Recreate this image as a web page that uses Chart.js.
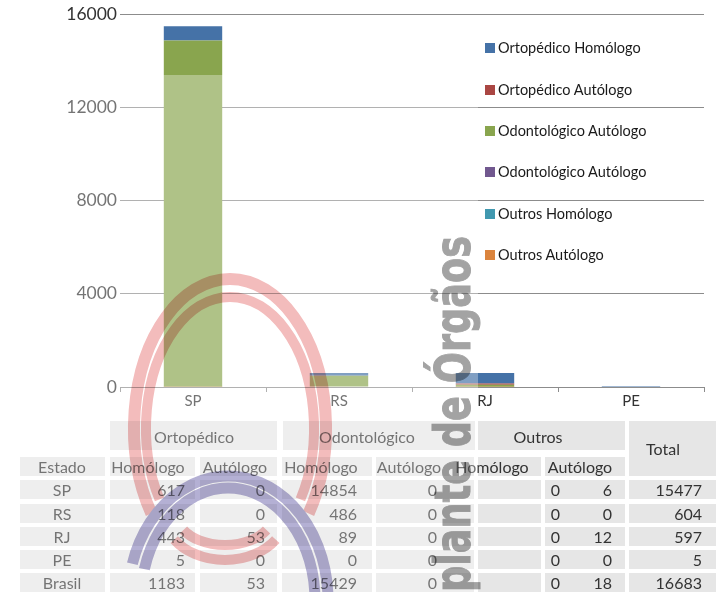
<!DOCTYPE html>
<html lang="pt-BR">
<head>
<meta charset="utf-8">
<title>Transplante de tecidos ósseos por estado</title>
<script src="https://cdn.jsdelivr.net/npm/chart.js@4/dist/chart.umd.min.js"></script>
<style>
  html, body { margin: 0; padding: 0; background: #fff; }
  #page { position: relative; width: 720px; height: 592px; overflow: hidden; font-family: Lato, "Open Sans", sans-serif; }
  #grafico { position: absolute; left: 0; top: 0; }
  #legenda { position: absolute; left: 485px; top: 0; z-index: 4; }
  .leg-item { position: absolute; left: 0; white-space: nowrap; font-size: 14.5px; color: #1a1a1a; line-height: 18px; }
  .leg-box { display: inline-block; width: 10px; height: 10px; margin-right: 3px; }
  #tabela { position: absolute; left: 0; top: 0; width: 720px; height: 592px; z-index: 1; }
  .cel { position: absolute; background: #e6e6e6; z-index: 1; }
  .txt { position: absolute; white-space: nowrap; color: #333; font-size: 16px; line-height: 19px; z-index: 2; }
  #clarear { position: absolute; left: 0; top: 75px; width: 478px; height: 517px; background: rgba(255,255,255,0.32); z-index: 2; }
  #marca { position: absolute; left: 0; top: 0; z-index: 3; mix-blend-mode: multiply; pointer-events: none; }
</style>
</head>
<body>
<div id="page">
  <canvas id="grafico" width="720" height="410"></canvas>
  <div id="tabela"></div>
  <div id="clarear"></div>
  <svg id="marca" width="720" height="592" viewBox="0 0 720 592"></svg>
  <div id="legenda"></div>
</div>
<script>
const estados = ['SP', 'RS', 'RJ', 'PE', 'Brasil'];
const ortoHomologo = [617, 118, 443, 5, 1183];
const ortoAutologo = [0, 0, 53, 0, 53];
const odontoHomologo = [14854, 486, 89, 0, 15429];
const odontoAutologo = [0, 0, 0, 0, 0];
const outrosHomologo = [0, 0, 0, 0, 0];
const outrosAutologo = [6, 0, 12, 0, 18];
const totais = [15477, 604, 597, 5, 16683];

// Eixos do gráfico
const categorias = estados.slice(0, 4);
const yMin = 0;
const yMax = 16000;
const yPasso = 4000;

// Séries na ordem da legenda (de cima para baixo)
const nomesSeries = [
  'Ortopédico Homólogo',
  'Ortopédico Autólogo',
  'Odontológico Autólogo',
  'Odontológico Autólogo',
  'Outros Homólogo',
  'Outros Autólogo',
];
const valoresSeries = [ortoHomologo, ortoAutologo, odontoHomologo, odontoAutologo, outrosHomologo, outrosAutologo];
const coresSeries = ['#4572a7', '#aa4643', '#89a54e', '#71588f', '#4198af', '#db843d'];

// Empilhamento: a primeira série do Chart.js fica embaixo
const datasets = nomesSeries.map((nome, i) => ({
  label: nome,
  data: valoresSeries[i].slice(0, 4),
  backgroundColor: coresSeries[i],
  borderWidth: 0,
  barPercentage: 0.4,
  categoryPercentage: 1,
})).reverse();

const fonte = 'Lato, "Open Sans", sans-serif';
const cinzaGrade = '#8c8c8c';

const grafico = new Chart(document.getElementById('grafico'), {
  type: 'bar',
  data: { labels: categorias, datasets },
  options: {
    responsive: false,
    animation: false,
    layout: { padding: { top: 14, right: 16, left: 0, bottom: 0 } },
    plugins: { legend: { display: false }, tooltip: { enabled: false } },
    scales: {
      x: {
        stacked: true,
        grid: { drawOnChartArea: false, offset: true, tickLength: 5, color: cinzaGrade },
        border: { color: cinzaGrade },
        ticks: { font: { family: fonte, size: 15 }, color: '#333', padding: 0 },
        afterFit: (s) => { s.height = 23; },
      },
      y: {
        stacked: true,
        min: yMin,
        max: yMax,
        ticks: {
          stepSize: yPasso,
          font: { family: fonte, size: 17.5 },
          color: '#333',
          padding: 3,
          callback: (v) => String(v),
        },
        grid: { color: cinzaGrade, drawTicks: false },
        border: { display: false },
        afterFit: (s) => { s.width = 120; },
      },
    },
  },
});

// Legenda em HTML sobre a área do gráfico
const legenda = document.getElementById('legenda');
const legTopo = [39, 81, 122, 163, 205, 246];
nomesSeries.forEach((nome, i) => {
  const item = document.createElement('div');
  item.className = 'leg-item';
  item.style.top = legTopo[i] + 'px';
  item.innerHTML = '<span class="leg-box" style="background:' + coresSeries[i] + '"></span>' + nome;
  legenda.appendChild(item);
});

// Tabela
const tabela = document.getElementById('tabela');
const colEsq = [20, 110, 200, 282, 376, 478, 545, 629];
const colDir = [105, 195, 277, 372, 474, 541, 625, 716];
const textoDir = [null, 185, 265, 357, 437, 560, 612, 702];
const centroSub = [62, 148, 235, 321, 409, 492, 580];
const linhasTopo = [480, 503.5, 527, 550, 573];

function celula(x0, x1, y0, h) {
  const d = document.createElement('div');
  d.className = 'cel';
  d.style.left = x0 + 'px';
  d.style.top = y0 + 'px';
  d.style.width = (x1 - x0) + 'px';
  d.style.height = h + 'px';
  tabela.appendChild(d);
}
function texto(t, x, y, alinh) {
  const d = document.createElement('div');
  d.className = 'txt';
  d.textContent = t;
  d.style.top = (y - 9.5) + 'px';
  if (alinh === 'right') {
    d.style.right = (720 - x) + 'px';
  } else {
    d.style.left = x + 'px';
    d.style.transform = 'translateX(-50%)';
  }
  tabela.appendChild(d);
}

// Cabeçalho 1
celula(110, 277, 421, 29); texto('Ortopédico', 194, 436);
celula(283, 475, 421, 29); texto('Odontológico', 367, 436);
celula(478, 625, 421, 29); texto('Outros', 538, 436);
celula(629, 716, 421, 55); texto('Total', 663, 448);

// Cabeçalho 2
const subTitulos = ['Estado', 'Homólogo', 'Autólogo', 'Homólogo', 'Autólogo', 'Homólogo', 'Autólogo'];
subTitulos.forEach((t, c) => {
  celula(colEsq[c], colDir[c], 457, 19);
  texto(t, centroSub[c], 466);
});

// Linhas de dados
const colunasDados = [ortoHomologo, ortoAutologo, odontoHomologo, odontoAutologo, outrosHomologo, outrosAutologo, totais];
estados.forEach((uf, r) => {
  const y = linhasTopo[r];
  celula(colEsq[0], colDir[0], y, 19);
  texto(uf, centroSub[0], y + 9.5);
  colunasDados.forEach((col, c) => {
    celula(colEsq[c + 1], colDir[c + 1], y, 19);
    texto(String(col[r]), textoDir[c + 1], y + 9.5, 'right');
  });
});

// Marca d'água (logotipo parcialmente visível)
const svg = document.getElementById('marca');
const NS = 'http://www.w3.org/2000/svg';
function arco(cx, cy, rx, ry, a0, a1, cor, larg) {
  const r = Math.PI / 180;
  const x0 = cx + rx * Math.cos(a0 * r), y0 = cy + ry * Math.sin(a0 * r);
  const x1 = cx + rx * Math.cos(a1 * r), y1 = cy + ry * Math.sin(a1 * r);
  const grande = (a1 - a0) > 180 ? 1 : 0;
  const p = document.createElementNS(NS, 'path');
  p.setAttribute('d', `M ${x0} ${y0} A ${rx} ${ry} 0 ${grande} 1 ${x1} ${y1}`);
  p.setAttribute('fill', 'none');
  p.setAttribute('stroke', cor);
  p.setAttribute('stroke-width', larg);
  svg.appendChild(p);
}
const vermelho = '#f3bcbc';
const roxo = '#b4b0d4';
arco(230, 428, 96, 149, 145, 395, vermelho, 12);
arco(230, 428, 84, 131, 147, 393, vermelho, 10);
arco(225, 515, 48, 30, 30, 150, vermelho, 10);
arco(225, 512, 62, 48, 35, 145, vermelho, 10);
arco(228, 600, 100, 124, 197, 380, roxo, 11);
arco(228, 600, 87, 112, 196, 380, roxo, 11);

const t = document.createElementNS(NS, 'text');
t.setAttribute('x', 470);
t.setAttribute('y', 592);
t.setAttribute('transform', 'rotate(-90 470 592)');
t.setAttribute('font-family', '"DejaVu Sans", "Liberation Sans", sans-serif');
t.setAttribute('font-weight', 'bold');
t.setAttribute('font-size', 50);
t.setAttribute('textLength', 356);
t.setAttribute('lengthAdjust', 'spacingAndGlyphs');
t.setAttribute('fill', '#a3a3a3');
t.setAttribute('stroke', '#a3a3a3');
t.setAttribute('stroke-width', 1);
t.textContent = 'plante de Órgãos';
svg.appendChild(t);
</script>
</body>
</html>
